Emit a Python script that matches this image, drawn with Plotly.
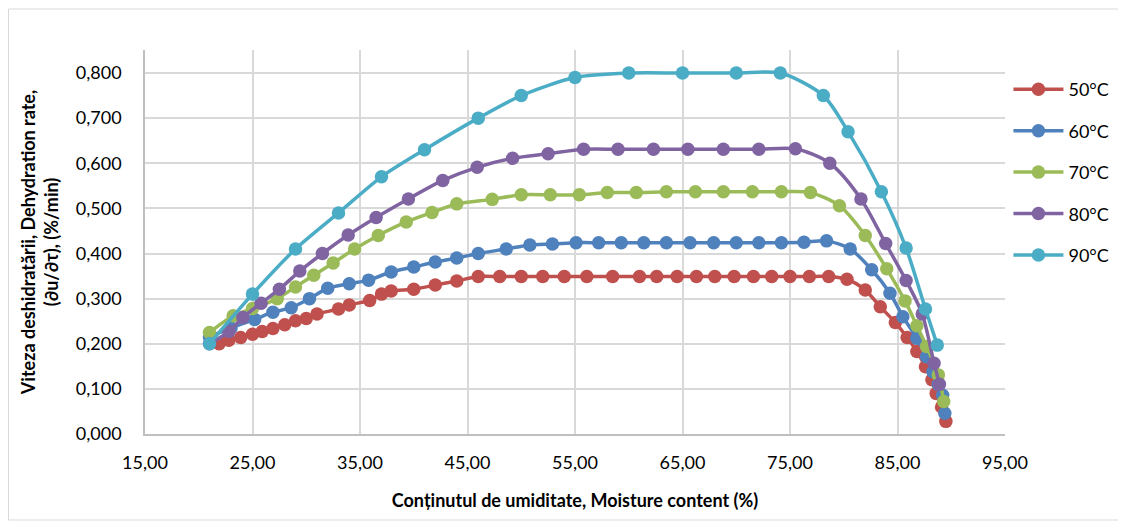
import plotly.graph_objects as go

# Moisture content (%) and dehydration rate (%/min) per drying temperature
x_50 = [21.9, 22.8, 23.9, 25.0, 25.9, 26.9, 28.0, 29.0, 30.0, 31.0, 33.0, 34.0, 35.9, 37.0, 37.9,
        40.0, 42.0, 44.0, 46.0, 48.0, 50.0, 52.0, 54.0, 56.1, 58.5, 61.0, 62.6, 64.5, 66.3, 68.0,
        69.8, 71.6, 73.3, 75.0, 76.8, 78.6, 80.3, 82.0, 83.4, 84.8, 85.9, 86.8, 87.6, 88.2, 88.6,
        89.1, 89.5]
y_50 = [0.200, 0.208, 0.214, 0.221, 0.227, 0.234, 0.242, 0.251, 0.256, 0.266, 0.277, 0.286, 0.296,
        0.310, 0.317, 0.321, 0.330, 0.339, 0.349, 0.349, 0.349, 0.349, 0.349, 0.349, 0.349, 0.349,
        0.349, 0.349, 0.349, 0.349, 0.349, 0.349, 0.349, 0.349, 0.349, 0.349, 0.343, 0.319, 0.282,
        0.247, 0.214, 0.183, 0.149, 0.120, 0.090, 0.060, 0.028]

x_60 = [21.0, 23.0, 25.2, 26.9, 28.6, 30.3, 32.0, 34.0, 35.8, 37.9, 40.0, 42.0, 44.0, 46.0, 48.6,
        50.8, 52.9, 55.1, 57.2, 59.3, 61.4, 63.5, 65.7, 67.9, 70.0, 72.1, 74.2, 76.3, 78.4, 80.6,
        82.6, 84.3, 85.5, 86.8, 87.7, 88.3, 88.8, 89.2, 89.4]
y_60 = [0.215, 0.235, 0.254, 0.270, 0.280, 0.300, 0.323, 0.333, 0.341, 0.359, 0.370, 0.381, 0.390,
        0.400, 0.410, 0.419, 0.421, 0.424, 0.424, 0.424, 0.424, 0.424, 0.424, 0.424, 0.424, 0.424,
        0.424, 0.425, 0.428, 0.410, 0.364, 0.312, 0.260, 0.212, 0.171, 0.138, 0.110, 0.086, 0.046]

x_70 = [21.0, 23.2, 25.0, 27.3, 29.0, 30.7, 32.5, 34.5, 36.7, 39.3, 41.7, 44.0, 47.3, 50.0, 52.7,
        55.4, 58.0, 60.7, 63.5, 66.2, 68.8, 71.5, 74.2, 76.9, 79.6, 82.0, 84.0, 85.7, 86.8, 87.7,
        88.8, 89.3]
y_70 = [0.225, 0.262, 0.278, 0.300, 0.326, 0.352, 0.379, 0.410, 0.440, 0.470, 0.491, 0.510, 0.520,
        0.530, 0.530, 0.530, 0.535, 0.535, 0.537, 0.537, 0.537, 0.537, 0.537, 0.535, 0.506, 0.440,
        0.366, 0.295, 0.240, 0.194, 0.131, 0.072]

x_80 = [21.0, 22.8, 24.1, 25.8, 27.5, 29.4, 31.5, 33.9, 36.5, 39.5, 42.7, 45.9, 49.2, 52.5, 55.8,
        59.0, 62.3, 65.5, 68.8, 72.1, 75.5, 78.7, 81.6, 83.9, 85.8, 87.3, 88.4, 88.9]
y_80 = [0.200, 0.227, 0.258, 0.290, 0.321, 0.361, 0.400, 0.441, 0.480, 0.521, 0.562, 0.591, 0.611,
        0.621, 0.631, 0.631, 0.631, 0.631, 0.631, 0.631, 0.632, 0.600, 0.521, 0.422, 0.340, 0.266,
        0.157, 0.110]

x_90 = [21.0, 25.0, 29.0, 33.0, 37.0, 41.0, 46.0, 50.0, 55.0, 60.0, 65.0, 70.0, 74.1, 78.1, 80.4,
        83.5, 85.8, 87.6, 88.7]
y_90 = [0.200, 0.310, 0.410, 0.490, 0.570, 0.630, 0.700, 0.750, 0.790, 0.800, 0.800, 0.800, 0.800,
        0.750, 0.670, 0.537, 0.412, 0.277, 0.197]

series_names = ["50°C", "60°C", "70°C", "80°C", "90°C"]
series_x = [x_50, x_60, x_70, x_80, x_90]
series_y = [y_50, y_60, y_70, y_80, y_90]
colors = ["#C0504D", "#4F81BD", "#9BBB59", "#8064A2", "#4BACC6"]

FONT = "Lato"

# Plot area in figure pixels (page body adds an 8px offset)
L, T, R, B = 137, 42, 997, 426
PW, PH = R - L, B - T

fig = go.Figure()

# One smoothed line with round markers per temperature
for name, xs, ys, col in zip(series_names, series_x, series_y, colors):
    fig.add_trace(go.Scatter(
        x=xs, y=ys, name=name, legendgroup=name,
        mode="lines+markers",
        line=dict(color=col, width=3.5, shape="spline", smoothing=0.8),
        marker=dict(color=col, size=13.5),
    ))

# Light grey frame around the whole chart
fig.add_shape(
    type="rect", xref="paper", yref="paper",
    x0=(0.5 - L) / PW, x1=(1112 - L) / PW,
    y0=(B - 512) / PH, y1=(B - 1) / PH,
    line=dict(color="#D9D9D9", width=1), layer="below",
)

fig.update_layout(
    width=1126, height=525,
    margin=dict(l=L, r=1126 - R, t=T, b=525 - B),
    paper_bgcolor="white", plot_bgcolor="white",
    separators=",.",
    font=dict(family=FONT, size=18, color="#000000"),
    showlegend=True,
    legend=dict(
        x=1.004, y=0.945, xanchor="left", yanchor="top",
        font=dict(family=FONT, size=18),
        tracegroupgap=15, itemwidth=50,
        bgcolor="rgba(0,0,0,0)",
    ),
    xaxis=dict(
        range=[15, 95], dtick=10, tick0=15, tickformat=".2f",
        showgrid=True, gridcolor="#D9D9D9", gridwidth=1.5,
        zeroline=False, showline=True, linecolor="#BFBFBF", linewidth=1.5,
        ticks="", ticklabelstandoff=12,
        title=dict(text="<b>Conținutul de umiditate, Moisture content (%)</b>",
                   font=dict(family=FONT, size=18), standoff=22),
    ),
    yaxis=dict(
        range=[0, 0.851], dtick=0.1, tick0=0, tickformat=".3f",
        showgrid=True, gridcolor="#D9D9D9", gridwidth=1.5,
        zeroline=False, showline=True, linecolor="#BFBFBF", linewidth=1.5,
        ticks="", ticklabelstandoff=18,
        title=dict(text="<b>Viteza deshidratării, Dehydration rate,<br>(∂u/∂τ), (%/min)</b>",
                   font=dict(family=FONT, size=18), standoff=12),
    ),
)

fig.write_html("out.html")
